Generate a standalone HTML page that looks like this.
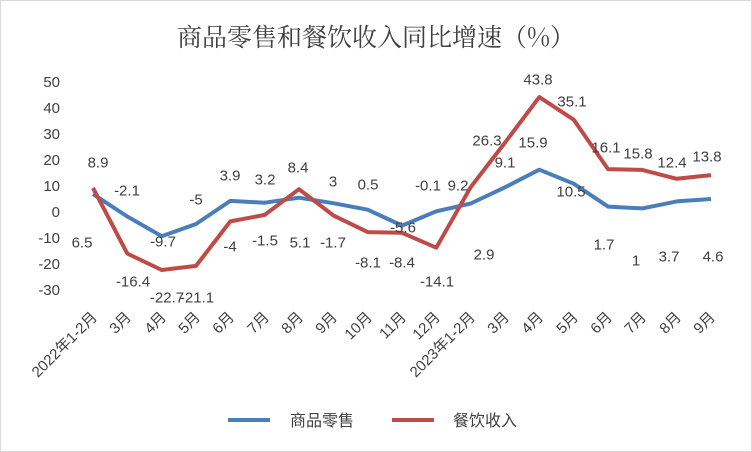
<!DOCTYPE html>
<html><head><meta charset="utf-8"><style>
html,body{margin:0;padding:0;background:#fff}
svg{display:block}
text{font-family:"Liberation Sans","Noto Sans CJK SC",sans-serif;fill:#404040;font-size:15px}
</style></head><body>
<svg width="752" height="452" xmlns="http://www.w3.org/2000/svg">
<rect x="0.5" y="0.5" width="751" height="451" fill="#fff" stroke="#d9d9d9"/>
<text x="376" y="46" text-anchor="middle" style="font-family:'Noto Serif CJK SC','Liberation Serif',serif;font-size:25px;fill:#404040">商品零售和餐饮收入同比增速（%）</text>
<g text-anchor="end" style="font-size:16px">
<text x="60" y="87">50</text><text x="60" y="113">40</text><text x="60" y="139">30</text><text x="60" y="165">20</text><text x="60" y="191">10</text><text x="60" y="217">0</text><text x="60" y="243">-10</text><text x="60" y="269">-20</text><text x="60" y="295">-30</text>
</g>
<polyline fill="none" stroke="#4a7ebb" stroke-width="4" stroke-linejoin="round" points="93,194.1 127.3,216.5 161.7,236.2 196,224 230.3,200.9 264.7,202.7 299,197.7 333.3,203.2 367.7,209.7 402,225.6 436.3,211.3 470.7,203.5 505,187.3 539.3,169.7 573.7,183.7 608,206.6 642.3,208.4 676.7,201.4 711,199"/>
<polyline fill="none" stroke="#be4b48" stroke-width="4" stroke-linejoin="round" points="93,187.9 127.3,253.6 161.7,270 196,265.9 230.3,221.4 264.7,214.9 299,189.2 333.3,215.4 367.7,232.1 402,232.8 436.3,247.7 470.7,187.1 505,142.6 539.3,97.1 573.7,119.7 608,169.1 642.3,169.9 676.7,178.8 711,175.1"/>
<g text-anchor="middle" dominant-baseline="central">
<text x="82" y="243">6.5</text><text x="127" y="191">-2.1</text><text x="163" y="242">-9.7</text><text x="196" y="200">-5</text><text x="230" y="176">3.9</text><text x="265" y="180">3.2</text><text x="300" y="243">5.1</text><text x="333" y="182">3</text><text x="368" y="185">0.5</text><text x="403" y="228">-5.6</text><text x="428" y="186">-0.1</text><text x="484" y="255">2.9</text><text x="505" y="163">9.1</text><text x="533" y="143">15.9</text><text x="571" y="192">10.5</text><text x="604" y="245">1.7</text><text x="636" y="261">1</text><text x="669" y="257">3.7</text><text x="713" y="257">4.6</text>
<text x="98" y="163">8.9</text><text x="133" y="282">-16.4</text><text x="167" y="298">-22.7</text><text x="197" y="298">-21.1</text><text x="230" y="247">-4</text><text x="265" y="241">-1.5</text><text x="298" y="168">8.4</text><text x="333" y="243">-1.7</text><text x="368" y="263">-8.1</text><text x="402" y="263">-8.4</text><text x="437" y="282">-14.1</text><text x="458" y="186">9.2</text><text x="487" y="141">26.3</text><text x="538" y="80">43.8</text><text x="572" y="102">35.1</text><text x="606" y="148">16.1</text><text x="638" y="154">15.8</text><text x="672" y="163">12.4</text><text x="707" y="157">13.8</text>
</g>
<g text-anchor="end" style="font-size:15px">
<text transform="translate(98,318) rotate(-45)">2022年1-2月</text>
<text transform="translate(132,318) rotate(-45)">3月</text>
<text transform="translate(167,318) rotate(-45)">4月</text>
<text transform="translate(201,318) rotate(-45)">5月</text>
<text transform="translate(235,318) rotate(-45)">6月</text>
<text transform="translate(270,318) rotate(-45)">7月</text>
<text transform="translate(304,318) rotate(-45)">8月</text>
<text transform="translate(338,318) rotate(-45)">9月</text>
<text transform="translate(373,318) rotate(-45)">10月</text>
<text transform="translate(407,318) rotate(-45)">11月</text>
<text transform="translate(441,318) rotate(-45)">12月</text>
<text transform="translate(476,318) rotate(-45)">2023年1-2月</text>
<text transform="translate(510,318) rotate(-45)">3月</text>
<text transform="translate(544,318) rotate(-45)">4月</text>
<text transform="translate(579,318) rotate(-45)">5月</text>
<text transform="translate(613,318) rotate(-45)">6月</text>
<text transform="translate(647,318) rotate(-45)">7月</text>
<text transform="translate(682,318) rotate(-45)">8月</text>
<text transform="translate(716,318) rotate(-45)">9月</text>
</g>
<line x1="228" y1="420" x2="270" y2="420" stroke="#4a7ebb" stroke-width="4"/>
<text x="290" y="426" style="font-size:16px">商品零售</text>
<line x1="392" y1="420" x2="434" y2="420" stroke="#be4b48" stroke-width="4"/>
<text x="453" y="426" style="font-size:16px">餐饮收入</text>
</svg>
</body></html>
